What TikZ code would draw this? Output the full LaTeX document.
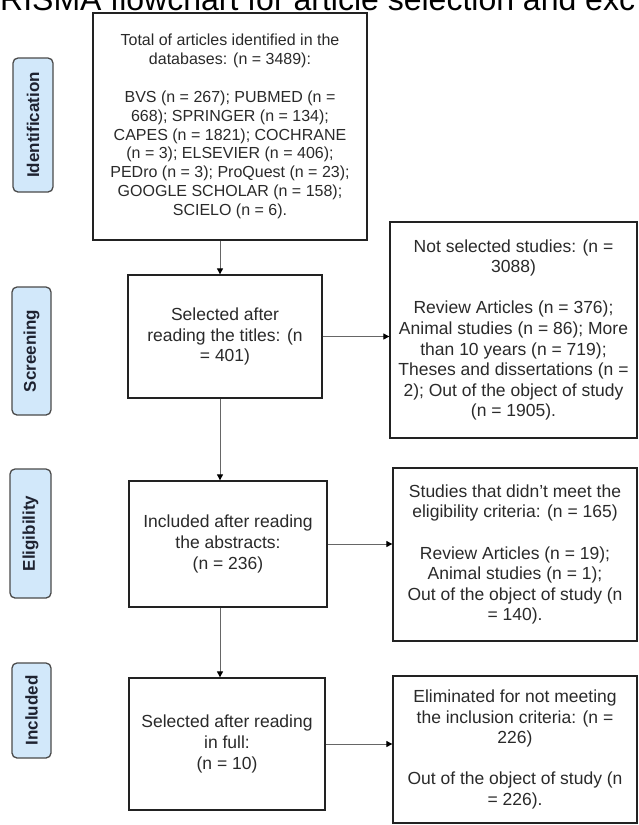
\documentclass[tikz,border=0pt]{standalone}
\usepackage{fontspec}
\setmainfont{Liberation Sans}
\usetikzlibrary{arrows.meta}
\definecolor{lblfill}{HTML}{D2E8FA}
\definecolor{lbldraw}{HTML}{4A4A4A}
\definecolor{lbltext}{HTML}{1E2230}
\definecolor{txt}{HTML}{2A2A2A}
\definecolor{boxline}{HTML}{222222}
\definecolor{arrline}{HTML}{666666}
\begin{document}
\begin{tikzpicture}[x=1pt,y=-1pt,
  box/.style={draw=boxline, line width=1.3pt, fill=white, text=txt, align=center, inner sep=0pt,
    font=\fontsize{17.5}{20.6}\selectfont},
  topbox/.style={box, font=\fontsize{16}{18.9}\selectfont},
  stage/.style={draw=lbldraw, line width=1.3pt, fill=lblfill, rounded corners=5pt, rotate=90,
    font=\bfseries\fontsize{17}{20}\selectfont, text=lbltext, inner sep=0pt},
  arr/.style={draw=arrline, line width=0.9pt, -{Triangle[length=6pt,width=6pt,color=black]}}]
\useasboundingbox[fill=white] (0,0) rectangle (639,825);
\clip (0,0) rectangle (639,825);

% title (cut at top of the picture)
\node[anchor=base west, inner sep=0pt, text=black, font=\fontsize{32}{36}\selectfont] (title) at (0,10)
  {RISMA flowchart for article selection and exc};

% stage labels
\node[stage, minimum width=134pt, minimum height=40pt] (lid) at (33,125) {Identification};
\node[stage, minimum width=128pt, minimum height=39pt] (lsc) at (31.5,351) {Screening};
\node[stage, minimum width=129pt, minimum height=41pt] (lel) at (30.5,533.5) {Eligibility};
\node[stage, minimum width=95pt, minimum height=39pt] (lin) at (31.5,710.5) {Included};

% main column
\node[topbox, minimum width=274pt, minimum height=227pt] (top) at (230,126.5)
  {Total of articles identified in the\\databases: (n = 3489):\\[18.9pt]
   BVS (n = 267); PUBMED (n =\\668); SPRINGER (n = 134);\\CAPES (n = 1821); COCHRANE\\
   (n = 3); ELSEVIER (n = 406);\\PEDro (n = 3); ProQuest (n = 23);\\GOOGLE SCHOLAR (n = 158);\\SCIELO (n = 6).};
\node[box, minimum width=194pt, minimum height=123pt] (scr) at (225,336.5)
  {Selected after\\reading the titles: (n\\= 401)};
\node[box, minimum width=198pt, minimum height=126pt] (eli) at (228,544)
  {Included after reading\\the abstracts:\\(n = 236)};
\node[box, minimum width=196pt, minimum height=132pt] (inc) at (227,744)
  {\raisebox{10pt}{\parbox{190pt}{\centering Selected after reading\\in full:\\(n = 10)}}};

% excluded column
\node[box, minimum width=247pt, minimum height=216pt] (nsel) at (513.5,330)
  {Not selected studies: (n =\\3088)\\[20.6pt]
   Review Articles (n = 376);\\Animal studies (n = 86); More\\than 10 years (n = 719);\\
   Theses and dissertations (n =\\2); Out of the object of study\\(n = 1905).};
\node[box, minimum width=244pt, minimum height=173pt] (stu) at (515,554.5)
  {Studies that didn’t meet the\\eligibility criteria: (n = 165)\\[20.6pt]
   Review Articles (n = 19);\\Animal studies (n = 1);\\Out of the object of study (n\\= 140).};
\node[box, minimum width=244pt, minimum height=147pt] (elm) at (515,749.5)
  {Eliminated for not meeting\\the inclusion criteria: (n =\\226)\\[20.6pt]
   Out of the object of study (n\\= 226).};

% connectors
\coordinate (cx) at (220,0);
\draw[arr] (top.south -| cx) -- (scr.north -| cx);
\draw[arr] (scr.south -| cx) -- (eli.north -| cx);
\draw[arr] (eli.south -| cx) -- (inc.north -| cx);
\draw[arr] (scr.east) -- (scr.east -| nsel.west);
\draw[arr] (eli.east) -- (eli.east -| stu.west);
\draw[arr] (inc.east) -- (inc.east -| elm.west);
\end{tikzpicture}
\end{document}
